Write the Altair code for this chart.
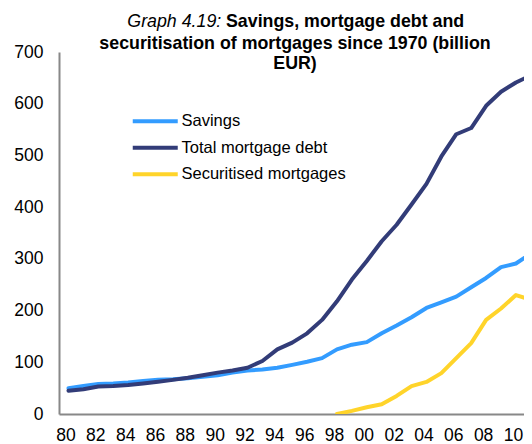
import altair as alt
import pandas as pd

years = list(range(1980, 2012))
savings = [50, 54, 58, 59, 61, 64, 66, 67, 69, 72,
           75, 80, 84, 86, 89.5, 95, 101, 108, 125, 134,
           139, 156, 171, 187, 205, 216, 227, 245, 263, 284,
           291, 310]
mortgage_debt = [45, 48, 53, 54, 56, 59, 62.5, 66, 70, 75,
                 80, 84, 89.5, 102.5, 125, 138, 156, 182, 218, 260,
                 296, 334, 366, 405, 445, 498, 541, 553, 596, 623,
                 641, 655]
securitised = [None] * 18 + [0, 6, 13, 19, 35, 54, 62, 79, 108, 137,
                             182, 204, 230, 221]

series_names = ["Savings", "Total mortgage debt", "Securitised mortgages"]
series_colors = ["#339CFF", "#323C78", "#FFD42A"]
x_ticks = list(range(1980, 2011, 2))
y_ticks = [0, 100, 200, 300, 400, 500, 600, 700]

rows = []
for name, vals in zip(series_names, [savings, mortgage_debt, securitised]):
    for y, v in zip(years, vals):
        if v is not None:
            rows.append({"year": y, "value": v, "series": name})
df = pd.DataFrame(rows)

FONT = "Liberation Sans"

lines = alt.Chart(df).mark_line(strokeWidth=4, strokeJoin="round", strokeCap="round", clip=True).encode(
    x=alt.X("year:Q",
            scale=alt.Scale(domain=[1979.363, 2010.54], nice=False, zero=False),
            axis=alt.Axis(values=x_ticks, labelExpr="slice(toString(datum.value), 2)",
                          title=None, grid=False, ticks=False, tickSize=0,
                          labelPadding=12, labelFontSize=17.5, labelFont=FONT,
                          labelOffset=-3,
                          labelColor="#000000", domainColor="#888888", domainWidth=2,
                          labelFlush=False, labelOverlap=False)),
    y=alt.Y("value:Q",
            scale=alt.Scale(domain=[0, 700], nice=False),
            axis=alt.Axis(values=y_ticks, title=None, grid=False, ticks=False, tickSize=0,
                          labelPadding=16, labelFontSize=17.5, labelFont=FONT,
                          labelColor="#000000", domainColor="#888888", domainWidth=2)),
    color=alt.Color("series:N",
                    scale=alt.Scale(domain=series_names, range=series_colors),
                    sort=series_names,
                    legend=alt.Legend(orient="none", legendX=88, legendY=61, title=None,
                                      symbolType="M-5,0L5,0", symbolSize=81,
                                      symbolStrokeWidth=4, labelFontSize=16.5,
                                      labelFont=FONT, labelColor="#000000", labelLimit=0,
                                      rowPadding=9.5, labelOffset=18, padding=0)),
    order="year:Q",
)

dummy = alt.Data(values=[{}])
t1a = alt.Chart(dummy).mark_text(text="Graph 4.19:", font=FONT, fontSize=17.8, fontStyle="italic",
                                 align="left", baseline="alphabetic", color="#000000").encode(
    x=alt.value(68.3), y=alt.value(-24.7))
t1b = alt.Chart(dummy).mark_text(text="Savings, mortgage debt and", font=FONT, fontSize=17.8,
                                 fontWeight="bold", align="left", baseline="alphabetic",
                                 color="#000000").encode(x=alt.value(167), y=alt.value(-24.7))
t2 = alt.Chart(dummy).mark_text(text="securitisation of mortgages since 1970 (billion", font=FONT,
                                fontSize=17.8, fontWeight="bold", align="center",
                                baseline="alphabetic", color="#000000").encode(
    x=alt.value(236), y=alt.value(-3))
t3 = alt.Chart(dummy).mark_text(text="EUR)", font=FONT, fontSize=17.8, fontWeight="bold",
                                align="center", baseline="alphabetic", color="#000000").encode(
    x=alt.value(236), y=alt.value(17.3))

chart = alt.layer(lines, t1a, t1b, t2, t3).properties(
    width=465, height=362,
    autosize=alt.AutoSizeParams(type="none"),
    padding={"left": 51, "top": 44, "right": 0, "bottom": 36},
).configure_view(stroke=None)

chart.save("out.html", embed_options={"renderer": "svg", "actions": False})
